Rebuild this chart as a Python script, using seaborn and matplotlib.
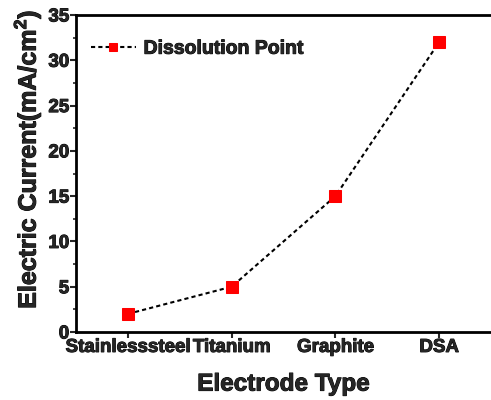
import matplotlib
matplotlib.use("Agg")
import matplotlib.pyplot as plt
from matplotlib.ticker import MultipleLocator
import matplotlib.patheffects as pe
import seaborn as sns
import pandas as pd

categories = ["Stainlesssteel", "Titanium", "Graphite", "DSA"]
current = [2, 5, 15, 32]
series_name = "Dissolution Point"

df = pd.DataFrame({"x": range(len(categories)), "y": current})

sns.set_style("ticks")
plt.rcParams['font.family'] = ['Liberation Sans', 'DejaVu Sans']
plt.rcParams['font.weight'] = 'bold'
plt.rcParams['mathtext.fontset'] = 'custom'
plt.rcParams['mathtext.bf'] = 'Liberation Sans:bold'
plt.rcParams['mathtext.rm'] = 'Liberation Sans:bold'

heavy = [pe.withStroke(linewidth=0.7, foreground="black")]

fig = plt.figure(figsize=(4.91, 4.00), dpi=100)
ax = fig.add_axes([0.155, 0.17, 0.845, 0.7925])

sns.lineplot(data=df, x="x", y="y", ax=ax, color="black", linestyle=(0, (2.0, 1.5)),
             linewidth=1.5, marker="s", markersize=9, markerfacecolor="red",
             markeredgecolor="red", label=series_name)

ax.set_xlim(-0.5, 3.5)
ax.set_ylim(0, 35)
ax.set_xticks(range(len(categories)))
ax.set_xticklabels(categories, fontsize=13.5, fontweight="bold")
ax.yaxis.set_major_locator(MultipleLocator(5))
ax.yaxis.set_minor_locator(MultipleLocator(2.5))
for lab in ax.get_yticklabels():
    lab.set_fontsize(13.5)
    lab.set_fontweight("bold")
for lab in ax.get_xticklabels() + ax.get_yticklabels():
    lab.set_path_effects(heavy)
ax.tick_params(axis="both", which="major", direction="out", length=4, width=1.5, pad=1)
ax.tick_params(axis="y", which="minor", direction="out", length=2.5, width=1.2)

for side in ["left", "bottom", "top"]:
    ax.spines[side].set_linewidth(2)
    ax.spines[side].set_color("black")
ax.spines["right"].set_visible(False)

xl = ax.set_xlabel("Electrode Type", fontsize=17.5, fontweight="bold", labelpad=12)
yl = ax.set_ylabel("Electric Current(mA/cm$^\\mathbf{2}$)", fontsize=18, fontweight="bold", labelpad=4)
ax.yaxis.label.set_y(0.545)
xl.set_path_effects(heavy)
yl.set_path_effects(heavy)

leg = ax.legend(loc="center left", frameon=False, fontsize=14, handlelength=2.3,
                handletextpad=0.4, markerscale=0.65, borderpad=0, borderaxespad=0,
                bbox_to_anchor=(0.036, 0.893))
for t in leg.get_texts():
    t.set_fontweight("bold")
    t.set_path_effects(heavy)

fig.savefig("out.png", dpi=100)
